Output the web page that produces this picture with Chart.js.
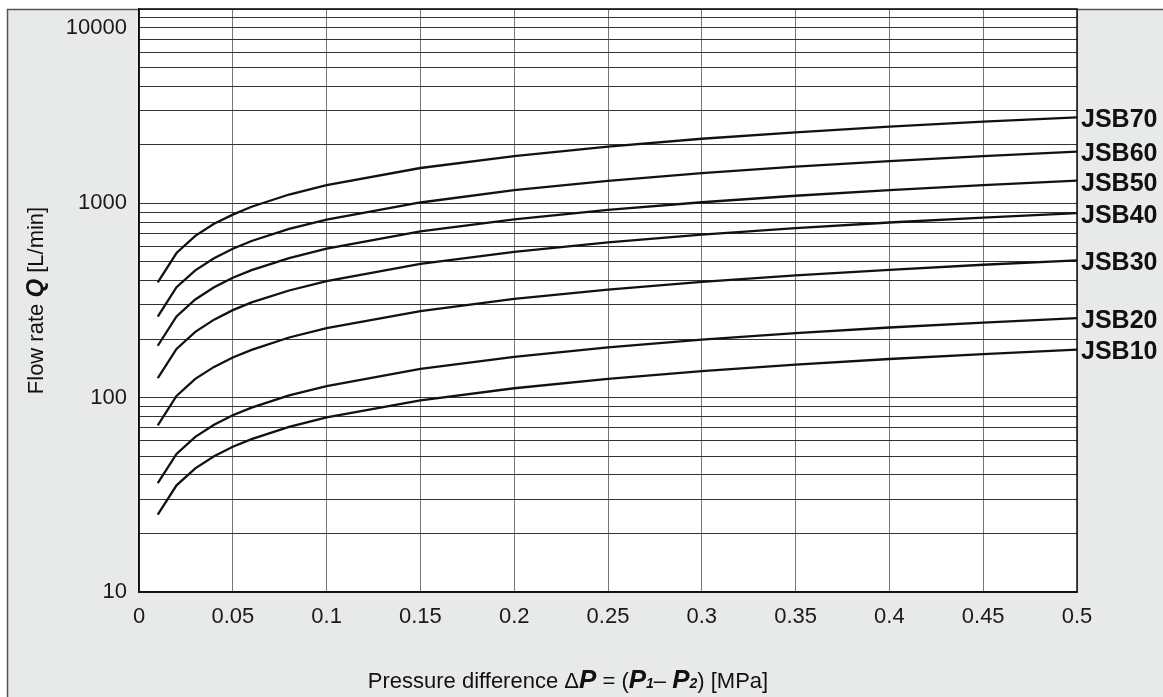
<!DOCTYPE html>
<html>
<head>
<meta charset="utf-8">
<script src="https://cdn.jsdelivr.net/npm/chart.js@4.4.1/dist/chart.umd.min.js"></script>
<style>
  html, body { margin: 0; padding: 0; background: #fff; }
  #wrap { width: 1163px; height: 697px; position: relative; }
</style>
</head>
<body>
<div id="wrap"><canvas id="flowChart"></canvas></div>
<script>
// pressure difference (MPa) where the curves were read
const pressure = [0.01, 0.02, 0.03, 0.04, 0.05, 0.06, 0.08, 0.1, 0.15, 0.2, 0.25, 0.3, 0.35, 0.4, 0.45, 0.5];

// flow rate Q (L/min)
const jsb70 = [392, 555, 680, 785, 875, 960, 1110, 1240, 1520, 1750, 1960, 2150, 2320, 2480, 2630, 2770];
const jsb60 = [261, 370, 452, 522, 584, 640, 738, 825, 1010, 1170, 1305, 1430, 1545, 1650, 1750, 1846];
const jsb50 = [185, 262, 320, 370, 414, 453, 523, 585, 717, 827, 925, 1013, 1094, 1170, 1241, 1308];
const jsb40 = [126, 178, 218, 252, 282, 309, 356, 398, 488, 563, 630, 690, 745, 797, 845, 891];
const jsb30 = [72, 102, 125, 144, 161, 176, 204, 228, 279, 322, 360, 394, 426, 455, 483, 509];
const jsb20 = [36.3, 51.3, 62.9, 72.6, 81.2, 88.9, 102.7, 114.8, 140.6, 162.3, 181.5, 198.8, 214.8, 229.6, 243.5, 256.7];
const jsb10 = [25, 35.4, 43.3, 50, 55.9, 61.2, 70.7, 79.1, 96.8, 111.8, 125, 136.9, 147.9, 158.1, 167.7, 176.8];

const seriesNames = ['JSB70', 'JSB60', 'JSB50', 'JSB40', 'JSB30', 'JSB20', 'JSB10'];
const seriesValues = [jsb70, jsb60, jsb50, jsb40, jsb30, jsb20, jsb10];

// axis ticks
const xTicks = [0, 0.05, 0.1, 0.15, 0.2, 0.25, 0.3, 0.35, 0.4, 0.45, 0.5];
const xTickLabels = ['0', '0.05', '0.1', '0.15', '0.2', '0.25', '0.3', '0.35', '0.4', '0.45', '0.5'];
const yTicks = [10, 20, 30, 40, 50, 60, 70, 80, 90,
                100, 200, 300, 400, 500, 600, 700, 800, 900,
                1000, 2000, 3000, 4000, 5000, 6000, 7000, 8000, 9000, 10000];
// the printed chart puts its "10000" label on the 8000 line
const yTickLabels = { 10: '10', 100: '100', 1000: '1000', 8000: '10000' };

const FONT = '"Liberation Sans", Arial, Helvetica, sans-serif';

function drawRuns(ctx, runs, x, y) {
    let cx = x;
    runs.forEach(r => {
        ctx.font = r.font;
        ctx.fillText(r.text, cx, y + (r.dy || 0));
        cx += ctx.measureText(r.text).width;
    });
}
function runsWidth(ctx, runs) {
    let w = 0;
    runs.forEach(r => { ctx.font = r.font; w += ctx.measureText(r.text).width; });
    return w;
}

const frame = {
    id: 'frame',
    beforeDraw(chart) {
        const { ctx, chartArea: a, width, height } = chart;
        ctx.save();
        ctx.fillStyle = '#ffffff';
        ctx.fillRect(0, 0, width, height);
        ctx.fillStyle = '#e8e9e9';
        ctx.fillRect(7, 9, width - 7, height - 9);
        ctx.strokeStyle = '#555';
        ctx.lineWidth = 1.5;
        ctx.beginPath();
        ctx.moveTo(7.5, height);
        ctx.lineTo(7.5, 9.5);
        ctx.lineTo(width, 9.5);
        ctx.stroke();
        ctx.fillStyle = '#ffffff';
        ctx.fillRect(a.left, a.top, a.right - a.left, a.bottom - a.top);
        ctx.restore();
    },
    afterDraw(chart) {
        const { ctx, chartArea: a } = chart;
        ctx.save();
        ctx.strokeStyle = '#111';
        ctx.lineWidth = 1.5;
        ctx.strokeRect(a.left, a.top, a.right - a.left, a.bottom - a.top);

        // curve names at the right end
        ctx.fillStyle = '#111';
        ctx.font = 'bold 25px ' + FONT;
        ctx.textAlign = 'left';
        ctx.textBaseline = 'middle';
        chart.data.datasets.forEach((ds, i) => {
            const pts = chart.getDatasetMeta(i).data;
            const last = pts[pts.length - 1];
            ctx.fillText(ds.label, a.right + 4, last.y + 3);
        });

        // x axis title
        const norm = '22px ' + FONT;
        const bi = 'italic bold 26px ' + FONT;
        const sub = 'italic bold 14px ' + FONT;
        const xRuns = [
            { text: 'Pressure difference \u0394', font: norm },
            { text: 'P', font: bi },
            { text: ' = (', font: norm },
            { text: 'P', font: bi },
            { text: '1', font: sub },
            { text: '\u2013 ', font: norm },
            { text: 'P', font: bi },
            { text: '2', font: sub },
            { text: ') [MPa]', font: norm }
        ];
        ctx.textAlign = 'left';
        ctx.textBaseline = 'alphabetic';
        const xw = runsWidth(ctx, xRuns);
        drawRuns(ctx, xRuns, 568 - xw / 2, 688);

        // y axis title
        const yRuns = [
            { text: 'Flow rate ', font: norm },
            { text: 'Q', font: 'italic bold 24px ' + FONT },
            { text: ' [L/min]', font: norm }
        ];
        const yw = runsWidth(ctx, yRuns);
        ctx.translate(43, (a.top + a.bottom) / 2);
        ctx.rotate(-Math.PI / 2);
        drawRuns(ctx, yRuns, -yw / 2, 0);
        ctx.restore();
    }
};

const datasets = seriesNames.map((name, i) => ({
    label: name,
    data: pressure.map((p, j) => ({ x: p, y: seriesValues[i][j] })),
    borderColor: '#111',
    borderWidth: 2.3,
    pointRadius: 0,
    tension: 0,
    fill: false
}));

new Chart(document.getElementById('flowChart'), {
    type: 'line',
    data: { datasets },
    plugins: [frame],
    options: {
        responsive: true,
        maintainAspectRatio: false,
        animation: false,
        layout: { padding: { top: 9, right: 86, left: 0, bottom: 0 } },
        plugins: {
            legend: { display: false },
            tooltip: { enabled: false }
        },
        scales: {
            x: {
                type: 'linear',
                min: 0,
                max: 0.5,
                afterBuildTicks: (scale) => { scale.ticks = xTicks.map(v => ({ value: v })); },
                afterFit: (scale) => {
                    scale.height = 105;
                    scale.paddingLeft = 0;
                    scale.paddingRight = 0;
                },
                grid: { color: '#777', lineWidth: 1, drawTicks: false },
                border: { color: '#111', width: 1.5 },
                ticks: {
                    autoSkip: false,
                    maxRotation: 0,
                    padding: 12,
                    color: '#1a1a1a',
                    font: { family: FONT, size: 22 },
                    callback: (v, i) => xTickLabels[i]
                }
            },
            y: {
                type: 'logarithmic',
                min: 10,
                max: 10000,
                afterBuildTicks: (scale) => { scale.ticks = yTicks.map(v => ({ value: v })); },
                afterFit: (scale) => {
                    scale.width = 139;
                    scale.paddingTop = 0;
                    scale.paddingBottom = 0;
                },
                grid: { color: '#333', lineWidth: 1, drawTicks: false },
                border: { color: '#111', width: 1.5 },
                ticks: {
                    autoSkip: false,
                    padding: 12,
                    color: '#1a1a1a',
                    font: { family: FONT, size: 22 },
                    callback: (v) => yTickLabels[v] || ''
                }
            }
        }
    }
});
</script>
</body>
</html>
